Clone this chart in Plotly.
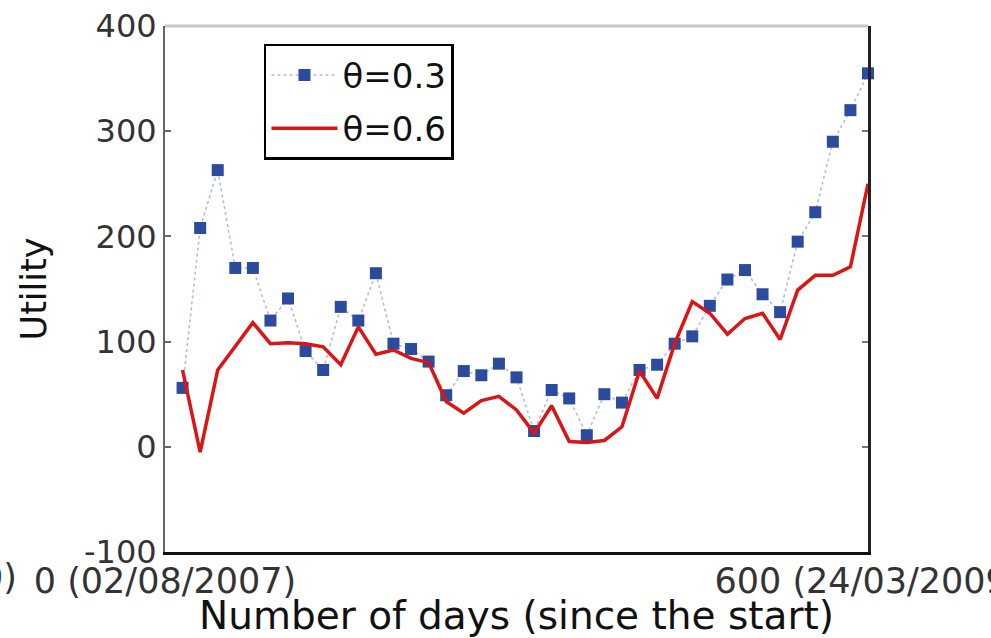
import plotly.graph_objects as go

# Days since the start, sampled every 15 days
days = [15, 30, 45, 60, 75, 90, 105, 120, 135, 150,
        165, 180, 195, 210, 225, 240, 255, 270, 285, 300,
        315, 330, 345, 360, 375, 390, 405, 420, 435, 450,
        465, 480, 495, 510, 525, 540, 555, 570, 585, 600]

# Utility for theta = 0.3
utility_03 = [56, 208, 263, 170, 170, 120, 141, 91, 73, 133,
              120, 165, 98, 93, 81, 49, 72, 68, 79, 66,
              15, 54, 46, 11, 50, 42, 73, 78, 98, 105,
              134, 159, 168, 145, 128, 195, 223, 290, 320, 355]

# Utility for theta = 0.6
utility_06 = [73, -5, 73, 95, 118, 98, 99, 98, 95, 78,
              114, 88, 92, 84, 80, 43, 32, 44, 48, 35,
              13, 39, 5, 4, 6, 19, 72, 46, 98, 138,
              127, 107, 122, 127, 102, 149, 163, 163, 171, 250]

x_tickvals = [0, 600]
x_ticktext = ["0 (02/08/2007)", "600 (24/03/2009)"]
y_tickvals = [-100, 0, 100, 200, 300, 400]
y_ticktext = ["-100", "0", "100", "200", "300", "400"]

FONT = "DejaVu Sans, Verdana, sans-serif"
Y_TICK_FONT = dict(family=FONT, size=32, color="#333")
X_TICK_FONT = dict(family=FONT, size=35, color="#333")

fig = go.Figure()

fig.add_trace(go.Scatter(
    x=days, y=utility_03, name="\u03b8=0.3", legendgroup="a",
    mode="lines+markers",
    line=dict(color="#b4bcdc", width=1.6, dash="dot"),
    marker=dict(symbol="square", size=12, color="#2b4b9e"),
    cliponaxis=False,
))

fig.add_trace(go.Scatter(
    x=days, y=utility_06, name="\u03b8=0.6", legendgroup="b",
    mode="lines",
    line=dict(color="#dd1414", width=3.5),
    cliponaxis=False,
))

# invisible trace to carry the right-hand axis with its inward ticks
fig.add_trace(go.Scatter(x=[0], y=[0], yaxis="y2", showlegend=False,
                         mode="markers", marker=dict(opacity=0),
                         hoverinfo="skip"))

fig.update_layout(
    width=991, height=638,
    margin=dict(l=165, r=123, t=26, b=86),
    paper_bgcolor="white", plot_bgcolor="white",
    font=dict(family=FONT, color="#111"),
    showlegend=True,
    legend=dict(
        x=0.1408, y=0.966, xanchor="left", yanchor="top",
        bgcolor="white", bordercolor="black", borderwidth=2.5,
        font=dict(family=FONT, size=34, color="#111"),
        itemwidth=66, tracegroupgap=6,
    ),
    xaxis=dict(
        range=[0, 600], tickvals=x_tickvals, ticktext=x_ticktext,
        showgrid=False, zeroline=False, automargin=False,
        showline=True, linecolor="#111", linewidth=3,
        ticks="", tickfont=X_TICK_FONT, ticklabeloverflow="allow",
        ticklabelstandoff=-4,
        title=dict(text="Number of days (since the start)",
                   font=dict(family=FONT, size=39, color="#111"),
                   standoff=2),
    ),
    yaxis=dict(
        range=[-100, 400], tickvals=y_tickvals, ticktext=y_ticktext,
        showgrid=False, zeroline=False, automargin=False,
        showline=True, linecolor="#666", linewidth=2,
        ticks="inside", ticklen=6, tickwidth=2, tickcolor="#666",
        tickfont=Y_TICK_FONT, ticklabelstandoff=0,
        title=dict(text="Utility",
                   font=dict(family=FONT, size=35, color="#111"),
                   standoff=27),
    ),
    yaxis2=dict(
        range=[-100, 400], tickvals=y_tickvals, overlaying="y", side="right",
        showticklabels=False, showgrid=False, zeroline=False,
        automargin=False,
        showline=True, linecolor="#222", linewidth=3,
        ticks="inside", ticklen=6, tickwidth=2, tickcolor="#777",
    ),
    shapes=[
        # light upper frame edge
        dict(type="line", xref="paper", yref="paper", x0=0, x1=1, y0=1, y1=1,
             line=dict(color="#c8c8c8", width=3)),
    ],
    annotations=[
        dict(text="0)", xref="paper", yref="paper", x=-0.207, y=-0.048,
             xanchor="right", yanchor="middle", showarrow=False,
             font=X_TICK_FONT),
    ],
)

fig.write_html("out.html")
